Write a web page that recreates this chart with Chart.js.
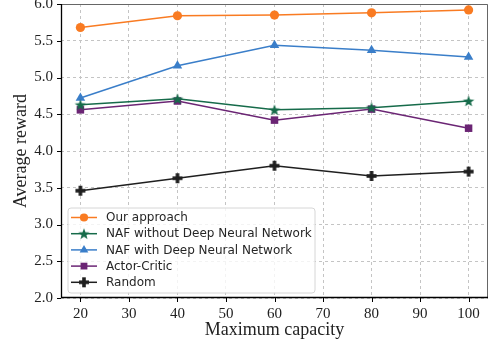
<!DOCTYPE html>
<html>
<head>
<meta charset="utf-8">
<script src="https://cdn.jsdelivr.net/npm/chart.js@4/dist/chart.umd.min.js"></script>
<style>
  html, body { margin: 0; padding: 0; background: #fff; }
  #box { width: 490px; height: 347px; }
</style>
</head>
<body>
<div id="box"><canvas id="grafico"></canvas></div>
<script>
// Datos
const capacidades = [20, 40, 60, 80, 100];
const nuestro = [5.68, 5.84, 5.85, 5.88, 5.92];
const nafSinDnn = [4.63, 4.71, 4.56, 4.59, 4.68];
const nafConDnn = [4.72, 5.16, 5.44, 5.37, 5.28];
const actorCritic = [4.56, 4.68, 4.42, 4.57, 4.31];
const aleatorio = [3.46, 3.63, 3.80, 3.66, 3.72];
const ticksX = [20, 30, 40, 50, 60, 70, 80, 90, 100];
const ticksY = [2.0, 2.5, 3.0, 3.5, 4.0, 4.5, 5.0, 5.5, 6.0];

const serif = "'Liberation Serif', 'DejaVu Serif', serif";
const sans = "'DejaVu Sans', sans-serif";

// Marcadores propios: estrella rellena y cruz gruesa
function marcadorEstrella(color, r) {
  const c = document.createElement('canvas');
  const s = Math.ceil(r * 2 + 2);
  c.width = s; c.height = s;
  const g = c.getContext('2d');
  g.translate(s / 2, s / 2 + 0.5);
  g.beginPath();
  for (let i = 0; i < 10; i++) {
    const rr = i % 2 === 0 ? r : r * 0.42;
    const a = -Math.PI / 2 + i * Math.PI / 5;
    g.lineTo(rr * Math.cos(a), rr * Math.sin(a));
  }
  g.closePath();
  g.fillStyle = color;
  g.fill();
  return c;
}

function marcadorCruz(color, r) {
  const c = document.createElement('canvas');
  const s = Math.ceil(r * 2 + 2);
  c.width = s; c.height = s;
  const g = c.getContext('2d');
  g.translate(s / 2, s / 2);
  const w = r * 0.36;
  g.fillStyle = color;
  g.fillRect(-r, -w, 2 * r, 2 * w);
  g.fillRect(-w, -r, 2 * w, 2 * r);
  return c;
}

const colores = {
  naranja: '#f97b22',
  verde: '#166b4a',
  azul: '#3a7ec9',
  morado: '#6b2574',
  negro: '#1f1f1f'
};

const series = [
  { label: 'Our approach', data: nuestro, color: colores.naranja, pointStyle: 'circle', r: 4.6 },
  { label: 'NAF without Deep Neural Network', data: nafSinDnn, color: colores.verde, pointStyle: marcadorEstrella(colores.verde, 6), r: 6 },
  { label: 'NAF with Deep Neural Network', data: nafConDnn, color: colores.azul, pointStyle: 'triangle', r: 5.5 },
  { label: 'Actor-Critic', data: actorCritic, color: colores.morado, pointStyle: 'rect', r: 5.3 },
  { label: 'Random', data: aleatorio, color: colores.negro, pointStyle: marcadorCruz(colores.negro, 5), r: 5 }
];

// Leyenda dentro del área del gráfico, abajo a la izquierda
const leyendaInterna = {
  id: 'leyendaInterna',
  afterDatasetsDraw(chart) {
    const ctx = chart.ctx;
    const area = chart.chartArea;
    const x0 = area.left + 7, y0 = 208, w = 247, h = 85;
    ctx.save();
    ctx.beginPath();
    ctx.roundRect(x0, y0, w, h, 3);
    ctx.fillStyle = 'rgba(255,255,255,0.8)';
    ctx.fill();
    ctx.strokeStyle = '#d6d6d6';
    ctx.lineWidth = 1;
    ctx.stroke();
    ctx.font = '12px ' + sans;
    ctx.textBaseline = 'middle';
    chart.data.datasets.forEach((ds, i) => {
      const y = 217.5 + i * 16.2;
      ctx.strokeStyle = ds.borderColor;
      ctx.lineWidth = 1.5;
      ctx.beginPath();
      ctx.moveTo(x0 + 3, y);
      ctx.lineTo(x0 + 29, y);
      ctx.stroke();
      ctx.fillStyle = ds.backgroundColor;
      Chart.helpers.drawPoint(ctx, {
        pointStyle: ds.pointStyle, radius: ds.pointRadius - 0.5, rotation: 0, borderWidth: 0
      }, x0 + 16, y);
      ctx.fillStyle = '#262626';
      ctx.fillText(ds.label, x0 + 38, y + 0.5);
    });
    ctx.restore();
  }
};

// Marco y marcas de los ejes
const marcoEjes = {
  id: 'marcoEjes',
  afterDraw(chart) {
    const ctx = chart.ctx;
    const a = chart.chartArea;
    const sx = chart.scales.x, sy = chart.scales.y;
    ctx.save();
    ctx.lineWidth = 1;
    ctx.strokeStyle = '#666';
    ctx.beginPath();
    ctx.moveTo(a.left, a.top + 0.5);
    ctx.lineTo(a.right - 0.5, a.top + 0.5);
    ctx.lineTo(a.right - 0.5, a.bottom);
    ctx.stroke();
    ctx.strokeStyle = '#000';
    ctx.lineWidth = 1.3;
    ctx.beginPath();
    ctx.moveTo(a.left + 0.5, a.top);
    ctx.lineTo(a.left + 0.5, a.bottom - 0.5);
    ctx.lineTo(a.right, a.bottom - 0.5);
    ctx.stroke();
    ctx.lineWidth = 1;
    ctx.beginPath();
    ticksX.forEach(v => {
      const px = Math.round(sx.getPixelForValue(v)) + 0.5;
      ctx.moveTo(px, a.bottom);
      ctx.lineTo(px, a.bottom + 4);
    });
    ticksY.forEach(v => {
      const py = Math.round(sy.getPixelForValue(v)) + 0.5;
      ctx.moveTo(a.left, py);
      ctx.lineTo(a.left - 4, py);
    });
    ctx.stroke();
    ctx.restore();
  }
};

const sinRelleno = () => ({ left: 0, right: 0, top: 0, bottom: 0 });

const grafico = new Chart(document.getElementById('grafico').getContext('2d'), {
  type: 'line',
  data: {
    datasets: series.map(s => ({
      label: s.label,
      data: capacidades.map((c, i) => ({ x: c, y: s.data[i] })),
      borderColor: s.color,
      backgroundColor: s.color,
      pointStyle: s.pointStyle,
      pointRadius: s.r,
      pointHoverRadius: s.r,
      pointBorderWidth: 0,
      borderWidth: 1.5,
      tension: 0,
      fill: false
    }))
  },
  options: {
    responsive: true,
    maintainAspectRatio: false,
    animation: false,
    layout: { autoPadding: false, padding: { left: 0, right: 2, top: 4, bottom: 0 } },
    plugins: {
      legend: { display: false },
      tooltip: { enabled: false }
    },
    scales: {
      x: {
        type: 'linear',
        min: 16,
        max: 104,
        afterBuildTicks: s => { s.ticks = ticksX.map(v => ({ value: v })); },
        afterFit: s => { s.height = 49; s.paddingLeft = 0; s.paddingRight = 0; s.getPadding = sinRelleno; },
        border: { display: false, dash: [3, 3] },
        grid: { color: '#c4c4c4', lineWidth: 1, drawTicks: false },
        ticks: {
          color: '#222',
          font: { family: serif, size: 15 },
          padding: 7,
          maxRotation: 0,
          callback: v => v
        },
        title: {
          display: true,
          text: 'Maximum capacity',
          color: '#222',
          font: { family: serif, size: 18 },
          padding: { top: 0, bottom: 6 }
        }
      },
      y: {
        min: 2,
        max: 6,
        afterBuildTicks: s => { s.ticks = ticksY.map(v => ({ value: v })); },
        afterFit: s => { s.width = 61; s.paddingTop = 0; s.paddingBottom = 0; s.getPadding = sinRelleno; },
        border: { display: false, dash: [3, 3] },
        grid: { color: '#c4c4c4', lineWidth: 1, drawTicks: false },
        ticks: {
          color: '#222',
          font: { family: serif, size: 15 },
          padding: 8,
          callback: v => v.toFixed(1)
        },
        title: {
          display: true,
          text: 'Average reward',
          color: '#222',
          font: { family: serif, size: 18 },
          padding: { top: 10, bottom: 0 }
        }
      }
    }
  },
  plugins: [leyendaInterna, marcoEjes]
});
</script>
</body>
</html>
